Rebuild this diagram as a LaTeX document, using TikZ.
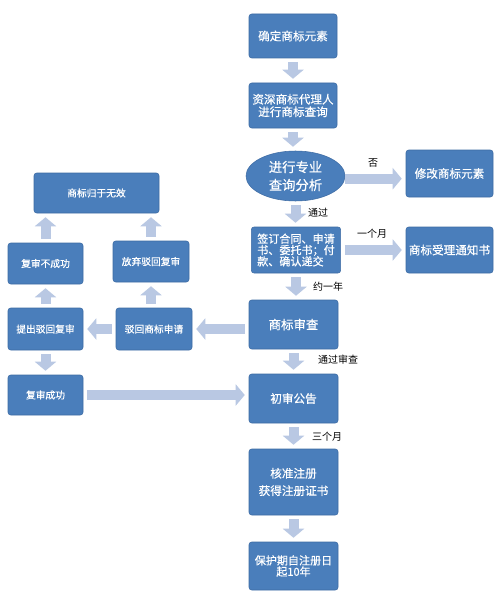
\documentclass[tikz,border=0pt]{standalone}
\usepackage{fontspec}
\newfontfamily\cjk{Noto Sans CJK SC}
\newfontfamily\cjkb[FakeBold=0.6]{Noto Sans CJK SC}
\usetikzlibrary{arrows.meta,shapes.geometric}
\definecolor{boxblue}{HTML}{4A7EBB}
\definecolor{boxline}{HTML}{3E6CA4}
\definecolor{arrowblue}{HTML}{B9C8E3}
\tikzset{
 box/.style={rectangle, rounded corners=2pt, fill=boxblue, draw=boxline, line width=0.4pt, text=white, font=\cjkb\fontsize{8.7}{10.5}\selectfont, align=center, inner sep=1pt},
 lbox/.style={box, font=\cjkb\fontsize{7.3}{9}\selectfont},
 oval/.style={ellipse, fill=boxblue, draw=boxline, line width=0.4pt, text=white, font=\cjkb\fontsize{10}{13.5}\selectfont, align=center, inner sep=0pt},
 barrow/.style={draw=arrowblue, line width=7.5pt, -{Triangle[width=15.75pt,length=6.75pt]}, shorten <=3pt, shorten >=3pt},
 lab/.style={font=\cjk\fontsize{7.5}{9}\selectfont, text=black, inner sep=0pt}
}
\begin{document}
\begin{tikzpicture}[x=0.75pt,y=-0.75pt]
\useasboundingbox[fill=white] (0,0) rectangle (500,610);
% right column
\node[box, minimum width=66pt, minimum height=33pt] (n1) at (293,36) {确定商标元素};
\node[box, minimum width=66pt, minimum height=33.75pt, font=\cjkb\fontsize{8.7}{9.4}\selectfont] (n2) at (293,105.5) {资深商标代理人\\进行商标查询};
\node[oval, minimum width=74.25pt, minimum height=37.5pt] (n3) at (295.5,176) {进行专业\\查询分析};
\node[box, minimum width=65.25pt, minimum height=35.25pt] (n4) at (449.5,173.5) {修改商标元素};
\node[box, minimum width=67pt, minimum height=34.5pt, align=left, font=\cjkb\fontsize{8.3}{8.5}\selectfont] (n5) at (296,250) {签订合同、申请\\书、委托书；付\\款、确认递交};
\node[box, minimum width=65.25pt, minimum height=34.5pt] (n6) at (449.5,250) {商标受理通知书};
\node[box, minimum width=66.75pt, minimum height=36.75pt, font=\cjkb\fontsize{9.3}{11}\selectfont] (n7) at (293.5,324.5) {商标审查};
\node[box, minimum width=66.75pt, minimum height=36.75pt] (n8) at (293.5,398.5) {初审公告};
\node[box, minimum width=66.75pt, minimum height=49.5pt, font=\cjkb\fontsize{8.7}{13}\selectfont] (n9) at (293.5,482) {核准注册\\获得注册证书};
\node[box, minimum width=66.75pt, minimum height=36pt, font=\cjkb\fontsize{8.3}{8.4}\selectfont] (n10) at (293.5,566) {保护期自注册日\\起10年};
% left part
\node[lbox, minimum width=93.75pt, minimum height=30pt] (L1) at (96.5,193) {商标归于无效};
\node[lbox, minimum width=56.25pt, minimum height=30.75pt] (L2) at (45.5,263.5) {复审不成功};
\node[lbox, minimum width=57pt, minimum height=30.75pt] (L3) at (151,261.5) {放弃驳回复审};
\node[lbox, minimum width=56.25pt, minimum height=31.5pt] (L4) at (45.5,329) {提出驳回复审};
\node[lbox, minimum width=57pt, minimum height=31.5pt] (L5) at (154,329) {驳回商标申请};
\node[lbox, minimum width=56.25pt, minimum height=30pt] (L6) at (45.5,395) {复审成功};
% vertical arrows right column
\draw[barrow] (n1) -- (n2);
\draw[barrow] (n2.south) -- (n2.south |- n3.north);
\draw[barrow] (n3.south) -- (n3.south |- n5.north);
\draw[barrow] (n5.south) -- (n5.south |- n7.north);
\draw[barrow] (n7) -- (n8);
\draw[barrow] (n8) -- (n9);
\draw[barrow] (n9) -- (n10);
% horizontal arrows
\draw[barrow, shorten <=0pt] ([yshift=-2pt]n3.east) -- ([yshift=-2pt]n3.east -| n4.west);
\draw[barrow] (n5.east) -- (n5.east -| n6.west);
\draw[barrow] (L5.east -| n7.west) -- (L5.east);
\draw[barrow] (L5) -- (L4);
\draw[barrow] (L4) -- (L2);
\draw[barrow] (L2.north) -- (L2.north |- L1.south);
\draw[barrow] (L5.north -| L3.south) -- (L3.south);
\draw[barrow] (L3.north) -- (L3.north |- L1.south);
\draw[barrow] (L4) -- (L6);
\draw[barrow] (L6.east) -- (L6.east -| n8.west);
% labels
\node[lab] (t1) at (373,163) {否};
\node[lab] (t2) at (318,213) {通过};
\node[lab] (t3) at (372,234) {一个月};
\node[lab] (t4) at (328,287) {约一年};
\node[lab] (t5) at (338,360) {通过审查};
\node[lab] (t6) at (327,437) {三个月};
\end{tikzpicture}
\end{document}
